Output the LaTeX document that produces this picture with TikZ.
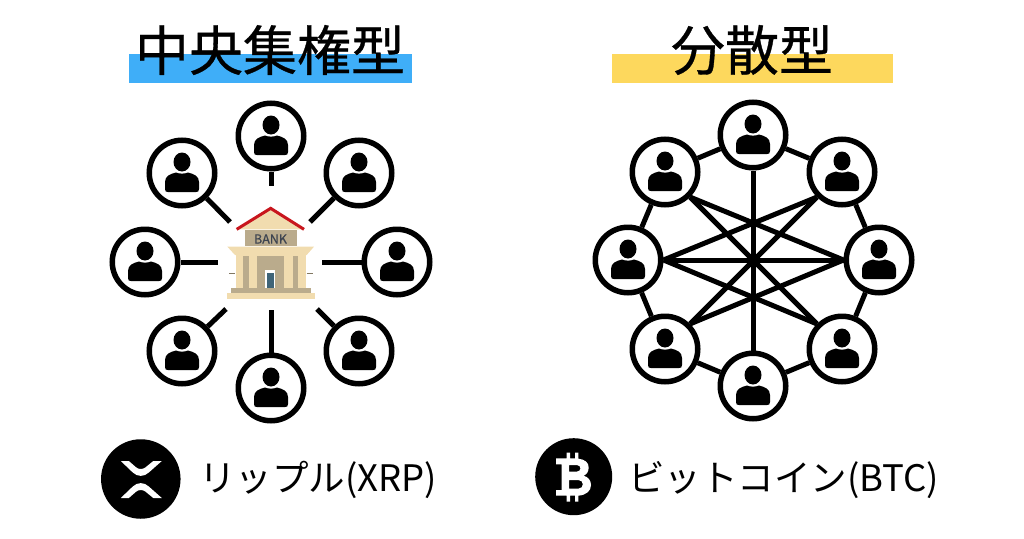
\documentclass[tikz,border=0pt]{standalone}
\usepackage{fontspec}
\newfontfamily\cjk{Noto Sans CJK JP}
\usetikzlibrary{positioning}
\definecolor{barblue}{RGB}{63,174,248}
\definecolor{baryellow}{RGB}{253,216,93}
\definecolor{roofred}{RGB}{200,22,29}
\definecolor{banklight}{RGB}{241,220,175}
\definecolor{bankdark}{RGB}{186,171,140}
\definecolor{bankdoor}{RGB}{63,100,120}
\definecolor{banktext}{RGB}{61,68,80}
\tikzset{
  usr/.style={circle,draw=black,fill=white,line width=5.5pt,minimum size=65.5pt,inner sep=0pt,
    path picture={
      \begin{scope}[shift={(path picture bounding box.center)}]
      \fill [black] (0,-11) ellipse (8.5 and 9.5);
      \fill [black] (-17,9) .. controls (-17,3) and (-12,1) .. (-6,-0.5) .. controls (-3,1) and (3,1) .. (6,-0.5)
        .. controls (12,1) and (17,3) .. (17,9) -- (17,16) .. controls (17,18.5) and (16,19) .. (14,19)
        -- (-14,19) .. controls (-16,19) and (-17,18.5) .. (-17,16) -- cycle;
      \end{scope}}},
  usrlink/.style={line width=5pt},
  headtxt/.style={font=\cjk\fontsize{54}{54}\selectfont\addfontfeature{FakeBold=0.6},inner sep=0pt},
  coin/.style={circle,fill=black,inner sep=0pt},
  coinlabel/.style={font=\cjk\fontsize{36.5}{38}\selectfont,inner sep=0pt,anchor=west}
}
\begin{document}
\begin{tikzpicture}[x=1pt,y=-1pt]
\useasboundingbox (0,0) rectangle (1024,538);
% titles
\fill [barblue] (129,54) rectangle (412,83);
\fill [baryellow] (612,54) rectangle (893,83);
\node [headtxt] (central) at (270,50) {中央集権型};
\node [headtxt] (dist) at (752,50) {分散型};
% bank
\begin{scope}[shift={(200,190)},scale=1/3]
\fill [banklight] (212,55)--(312,118)--(110,118)--cycle;
\draw [roofred,line width=3pt,line join=miter] (110,118)--(212,55)--(312,118);
\fill [bankdark] (135,120) rectangle (290,168);
\fill [banklight] (82,170)--(342,170)--(320,195)--(105,195)--cycle;
\fill [banklight] (108,195) rectangle (318,293);
\fill [bankdark] (130,198) rectangle (148,293);
\fill [bankdark] (170,198) rectangle (253,293);
\fill [bankdark] (278,198) rectangle (293,293);
\fill [white] (196,241) rectangle (226,293);
\fill [bankdoor] (201,249) rectangle (221,293);
\fill [bankdark] (92,293) rectangle (332,310);
\fill [banklight] (80,310) rectangle (345,326);
\draw [bankdark!70!black,line width=0.5pt] (88,250)--(105,250);
\draw [bankdark!70!black,line width=0.5pt] (320,250)--(340,250);
\end{scope}
\node [font=\cjk\fontsize{12.5}{13}\selectfont\addfontfeature{FakeBold=0.7},text=banktext,inner sep=0pt] (banklabel) at (270.5,239) {BANK};
% left network
\node [usr] (a1) at (271,136) {};
\node [usr] (a2) at (359,173) {};
\node [usr] (a3) at (397,262) {};
\node [usr] (a4) at (359,351) {};
\node [usr] (a5) at (271,388) {};
\node [usr] (a6) at (182,351) {};
\node [usr] (a7) at (145,262) {};
\node [usr] (a8) at (182,173) {};
\coordinate (b1) at (271,186);
\coordinate (b2) at (310,222);
\coordinate (b3) at (322,262);
\coordinate (b4) at (317,309);
\coordinate (b5) at (271,310);
\coordinate (b6) at (226,309);
\coordinate (b7) at (218,262);
\coordinate (b8) at (230,222);
\foreach \i in {1,...,8}
  \draw [usrlink] (a\i)--(b\i);
% right network
\node [usr] (r1) at (753,135) {};
\node [usr] (r2) at (842,172) {};
\node [usr] (r3) at (879,260) {};
\node [usr] (r4) at (842,349) {};
\node [usr] (r5) at (753,386) {};
\node [usr] (r6) at (665,349) {};
\node [usr] (r7) at (628,260) {};
\node [usr] (r8) at (665,172) {};
\draw [usrlink] (r1)--(r2);
\draw [usrlink] (r2)--(r3);
\draw [usrlink] (r3)--(r4);
\draw [usrlink] (r4)--(r5);
\draw [usrlink] (r5)--(r6);
\draw [usrlink] (r6)--(r7);
\draw [usrlink] (r7)--(r8);
\draw [usrlink] (r8)--(r1);
\draw [usrlink] (r1.south)--(r5.north);
\draw [usrlink] (r7.east)--(r3.west);
\draw [usrlink] (r8.south east)--(r4.north west);
\draw [usrlink] (r2.south west)--(r6.north east);
\draw [usrlink] (r8.south east)--(r3.west);
\draw [usrlink] (r2.south west)--(r7.east);
\draw [usrlink] (r7.east)--(r4.north west);
\draw [usrlink] (r3.west)--(r6.north east);
% coins
\node [coin,minimum size=79.5pt] (xrp) at (140.8,479) {};
\node [coin,minimum size=77pt] (btc) at (573.7,476.7) {};
\begin{scope}[shift={(xrp.center)}]
\fill [white] (-20,-18)--(-12,-18)--(-4.5,-11.5) .. controls (-2,-9.5) and (2,-9.5) .. (4.5,-11.5)--(12.5,-18)
  --(21,-18)--(8,-6.5) .. controls (3.5,-2) and (-3.5,-2) .. (-8,-6.5)--cycle;
\fill [white] (-20,19)--(-12,19)--(-4.5,12.5) .. controls (-2,10.5) and (2,10.5) .. (4.5,12.5)--(12.5,19)
  --(21,19)--(8,7.5) .. controls (3.5,3) and (-3.5,3) .. (-8,7.5)--cycle;
\end{scope}
\begin{scope}[shift={(525,430)},scale=1/3]
\fill [white,even odd rule] (93,85)--(125,85)--(125,68)--(135,68)--(135,85)--(150,85)--(150,68)--(160,68)--(160,86)
  .. controls (180,88) and (191,98) .. (191,112) .. controls (191,124) and (186,133) .. (176,137)
  .. controls (190,141) and (198,152) .. (198,165) .. controls (198,183) and (184,195) .. (160,197)
  --(160,215)--(150,215)--(150,197)--(135,197)--(135,215)--(125,215)--(125,197)--(93,197)--(93,180)--(110,180)--(110,103)--(93,103)--cycle
  (132,105)--(155,105) .. controls (170,105) and (170,125) .. (155,125)--(132,125)--cycle
  (132,150)--(160,150) .. controls (178,150) and (178,176) .. (160,176)--(132,176)--cycle;
\end{scope}
\node [coinlabel] (xrplabel) at (199,480) {リップル(XRP)};
\node [coinlabel] (btclabel) at (628,480) {ビットコイン(BTC)};
\end{tikzpicture}
\end{document}
